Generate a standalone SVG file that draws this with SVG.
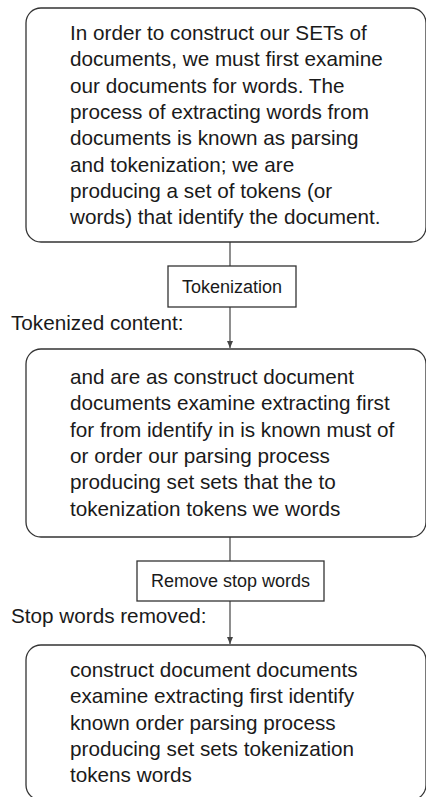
<svg xmlns="http://www.w3.org/2000/svg" width="426" height="797" viewBox="0 0 426 797">
<style>
.box{fill:#fff;stroke:#333;stroke-width:1.3}
.t{font-family:"Liberation Sans",Arial,sans-serif;font-size:20.7px;fill:#1a1a1a}
.s{font-family:"Liberation Sans",Arial,sans-serif;font-size:18px;fill:#1a1a1a;text-anchor:middle}
.ln{stroke:#444;stroke-width:1.2;fill:none}
</style>
<defs>
<marker id="ah" markerWidth="8" markerHeight="8" refX="7" refY="4" orient="auto" markerUnits="userSpaceOnUse">
<path d="M0,1 L7,4 L0,7 Z" fill="#444"/>
</marker>
</defs>
<rect width="426" height="797" fill="#fff"/>
<g id="connectors">
<line class="ln" x1="230" y1="242" x2="230" y2="266"/>
<line class="ln" x1="230" y1="307" x2="230" y2="348" marker-end="url(#ah)"/>
<line class="ln" x1="230" y1="537" x2="230" y2="561"/>
<line class="ln" x1="230" y1="601" x2="230" y2="644" marker-end="url(#ah)"/>
</g>
<g id="intro">
<rect class="box" x="26" y="8" width="400" height="234" rx="15"/>
<text class="t" x="70" y="40">In order to construct our SETs of</text>
<text class="t" x="70" y="66.3">documents, we must first examine</text>
<text class="t" x="70" y="92.6">our documents for words. The</text>
<text class="t" x="70" y="118.9">process of extracting words from</text>
<text class="t" x="70" y="145.2">documents is known as parsing</text>
<text class="t" x="70" y="171.5">and tokenization; we are</text>
<text class="t" x="70" y="197.8">producing a set of tokens (or</text>
<text class="t" x="70" y="224.1">words) that identify the document.</text>
</g>
<g id="tokenization">
<rect class="box" x="168" y="266" width="128" height="41"/>
<text class="s" x="232" y="293">Tokenization</text>
</g>
<g id="tokenized-label">
<text class="t" x="11" y="330">Tokenized content:</text>
</g>
<g id="tokenized">
<rect class="box" x="26" y="349" width="400" height="188" rx="15"/>
<text class="t" x="70" y="384">and are as construct document</text>
<text class="t" x="70" y="410.3">documents examine extracting first</text>
<text class="t" x="70" y="436.6">for from identify in is known must of</text>
<text class="t" x="70" y="462.9">or order our parsing process</text>
<text class="t" x="70" y="489.2">producing set sets that the to</text>
<text class="t" x="70" y="515.5">tokenization tokens we words</text>
</g>
<g id="remove-stop-words">
<rect class="box" x="137" y="561" width="187" height="40"/>
<text class="s" x="230.5" y="587">Remove stop words</text>
</g>
<g id="removed-label">
<text class="t" x="11" y="623">Stop words removed:</text>
</g>
<g id="removed">
<rect class="box" x="26" y="645" width="400" height="155" rx="15"/>
<text class="t" x="70" y="677">construct document documents</text>
<text class="t" x="70" y="703.3">examine extracting first identify</text>
<text class="t" x="70" y="729.6">known order parsing process</text>
<text class="t" x="70" y="755.9">producing set sets tokenization</text>
<text class="t" x="70" y="782.2">tokens words</text>
</g>
</svg>
